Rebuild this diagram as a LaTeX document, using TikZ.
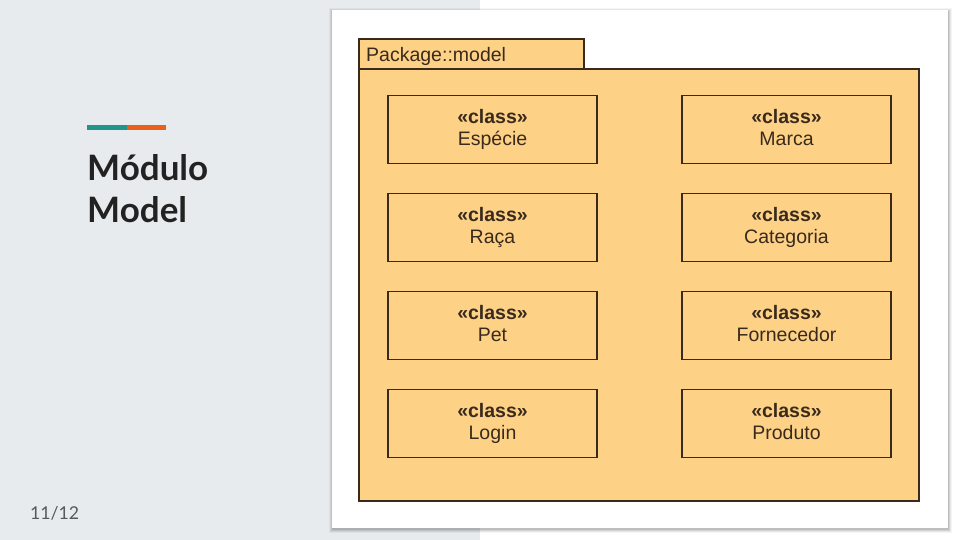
\documentclass[tikz,border=0pt]{standalone}
\usepackage{fontspec}
\setmainfont{Liberation Sans}
\newfontfamily\latofont{Lato}
\definecolor{panel}{HTML}{E8EBED}
\definecolor{pkg}{HTML}{FDD287}
\definecolor{edge}{HTML}{3A2A1C}
\definecolor{txt}{HTML}{3A2A1C}
\definecolor{titlec}{HTML}{222222}
\definecolor{teal}{HTML}{21958A}
\definecolor{orng}{HTML}{E8601C}
\definecolor{pnum}{HTML}{555A5E}
\tikzset{
  cls/.style={draw=edge, fill=pkg, line width=1.1pt, minimum width=209pt, minimum height=68pt,
    inner sep=0pt, align=center, text=txt, font=\fontsize{19.5}{23}\selectfont},
  pkgshape/.style={draw=edge, fill=pkg, line width=1.1pt, inner sep=0pt},
  titletext/.style={anchor=base west, inner sep=0pt, text=titlec, font=\latofont\bfseries\fontsize{35}{41}\selectfont}
}
\newcommand{\clsbox}[1]{\raisebox{3pt}{\begin{tabular}{@{}c@{}}\textbf{«class»}\\[-1pt]#1\end{tabular}}}
\begin{document}
\begin{tikzpicture}[x=1pt,y=-1pt]
\useasboundingbox (0,0) rectangle (960,540);
\fill[white] (0,0) rectangle (960,540);
\fill[panel] (0,0) rectangle (480,540);
% card shadow
\foreach \o/\a in {4/0.04,3/0.06,2/0.08,1/0.10}{
  \fill[black,opacity=\a] (332-\o+1,10-\o+2) rectangle (948+\o,528+\o+1);
}
\fill[white] (332,10) rectangle (948,528);
% accent
\coordinate (a1) at (87,127.5);
\coordinate (a2) at (127,127.5);
\coordinate (a3) at (166,127.5);
\draw[teal, line width=4.5pt] (a1) -- (a2);
\draw[orng, line width=4.5pt] (a2) -- (a3);
% title
\node[titletext] (t1) at (87,181) {Módulo};
\node[titletext] (t2) at (87,222) {Model};
\node[anchor=base west, inner sep=0pt, text=pnum, font=\latofont\fontsize{17.7}{20}\selectfont] (pnum) at (30,519) {11/12};
% package
\node[pkgshape, minimum width=225pt, minimum height=30pt] (tab) at (471.5,54) {};
\node[pkgshape, minimum width=560pt, minimum height=432pt] (body) at (639,285) {};
\node[anchor=base west, inner sep=0pt, text=txt, font=\fontsize{19.5}{22}\selectfont] (plabel) at (366,61.5) {Package::model};
% classes
\node[cls] (especie) at (492.5,129.5) {\clsbox{Espécie}};
\node[cls] (raca) at (492.5,227.5) {\clsbox{Raça}};
\node[cls] (pet) at (492.5,325.5) {\clsbox{Pet}};
\node[cls] (login) at (492.5,423.5) {\clsbox{Login}};
\node[cls] (marca) at (786.5,129.5) {\clsbox{Marca}};
\node[cls] (categoria) at (786.5,227.5) {\clsbox{Categoria}};
\node[cls] (fornecedor) at (786.5,325.5) {\clsbox{Fornecedor}};
\node[cls] (produto) at (786.5,423.5) {\clsbox{Produto}};
\end{tikzpicture}
\end{document}
